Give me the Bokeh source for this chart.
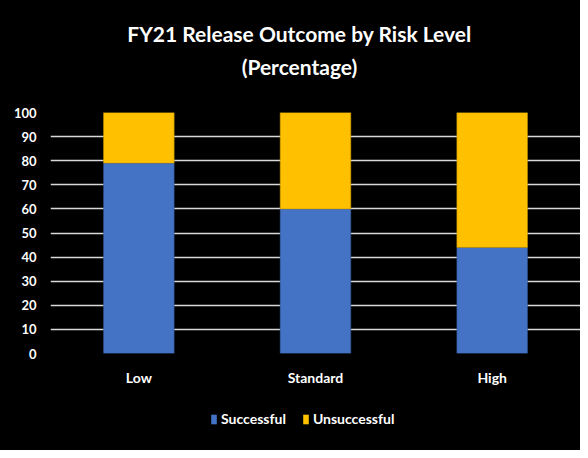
from bokeh.plotting import figure
from bokeh.models import Label, Legend, LegendItem, ColumnDataSource, FixedTicker, Range1d
from bokeh.layouts import column
from bokeh.embed import file_html
from bokeh.resources import INLINE

categories = ["Low", "Standard", "High"]
successful = [79, 60, 44]
unsuccessful = [21, 40, 56]
series = ["Successful", "Unsuccessful"]
colors = ["#4472C4", "#FFC000"]
edge_colors = ["#2F528F", "#BF9000"]
y_ticks = [0, 10, 20, 30, 40, 50, 60, 70, 80, 90, 100]
title_lines = ["FY21 Release Outcome by Risk Level", "(Percentage)"]

FONT = "Lato"
W = 580


def blank(height):
    f = figure(width=W, height=height, output_backend="svg", toolbar_location=None,
               x_range=Range1d(0, 1), y_range=Range1d(0, 1),
               background_fill_color=None, border_fill_color="black",
               outline_line_color=None, min_border=0)
    f.axis.visible = False
    f.grid.visible = False
    return f


src = ColumnDataSource(dict(cat=categories, Successful=successful, Unsuccessful=unsuccessful))

# --- title strip ---
t = blank(100)
for txt, yy in zip(title_lines, [67, 34]):
    t.add_layout(Label(x=249, y=yy, x_units="screen", y_units="screen",
                       text=txt, text_align="center", text_baseline="alphabetic",
                       text_color="white", text_font=FONT,
                       text_font_style="bold", text_font_size="21px"))

# --- main chart ---
p = figure(x_range=categories, y_range=(0, 100), width=W, height=300,
           output_backend="svg", toolbar_location=None,
           background_fill_color=None, border_fill_color="black",
           outline_line_color=None,
           min_border_left=50, min_border_right=0, min_border_top=12, min_border_bottom=47)
p.vbar_stack(series, x="cat", width=0.40, source=src, color=colors,
             line_color=edge_colors, line_width=0.5)
p.xgrid.grid_line_color = None
p.ygrid.grid_line_color = "#D9D9D9"
p.ygrid.grid_line_width = 1.5
p.yaxis.ticker = FixedTicker(ticks=y_ticks)
for ax in (p.xaxis[0], p.yaxis[0]):
    ax.axis_line_color = None
    ax.major_tick_line_color = None
    ax.minor_tick_line_color = None
    ax.major_label_text_color = "white"
    ax.major_label_text_font = FONT
    ax.major_label_text_font_style = "bold"
p.yaxis.major_label_text_font_size = "13px"
p.xaxis.major_label_text_font_size = "14px"
p.yaxis.major_label_standoff = 8
p.xaxis.major_label_standoff = 9
p.x_range.range_padding = 0.0

# --- legend strip (its bars lie outside the visible range; only the legend shows) ---
q = figure(x_range=categories, y_range=Range1d(1000, 2000), width=W, height=50,
           output_backend="svg", toolbar_location=None,
           background_fill_color=None, border_fill_color="black",
           outline_line_color=None, min_border=0)
q.axis.visible = False
q.grid.visible = False
lr = q.vbar_stack(series, x="cat", width=0.001, source=src, color=colors,
                  line_color=None)
legend = Legend(items=[LegendItem(label=s, renderers=[rr]) for s, rr in zip(series, lr)],
                orientation="horizontal", location=(160, 23),
                background_fill_color="black", background_fill_alpha=1,
                border_line_color=None, label_text_color="white",
                label_text_font=FONT, label_text_font_style="bold",
                label_text_font_size="14px", glyph_width=7, glyph_height=12,
                label_height=12, spacing=16, label_standoff=4, margin=0, padding=2)
q.add_layout(legend, "center")

layout = column(t, p, q, spacing=0, styles={"background-color": "black"})
open("out.html", "w").write(file_html(layout, INLINE))
